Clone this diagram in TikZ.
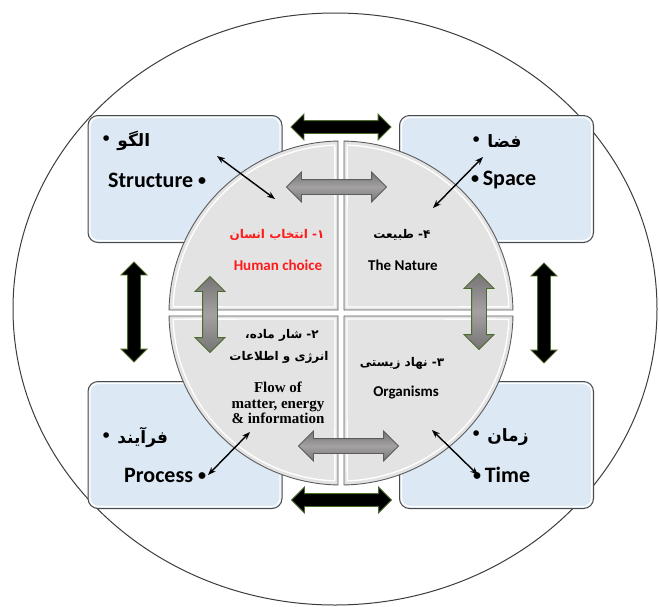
\documentclass[tikz,border=0pt]{standalone}
\usepackage{fontspec}
\setmainfont{Carlito}
\newfontfamily\fa[Script=Arabic]{DejaVu Sans}
\newfontfamily\tms{Liberation Serif}
\TeXXeTstate=1
\usetikzlibrary{shapes.arrows,arrows.meta}

\definecolor{boxfill}{HTML}{DCE8F4}
\definecolor{boxline}{HTML}{4A4A4A}
\definecolor{quadfill}{HTML}{E3E3E3}
\definecolor{quadline}{HTML}{5C5C5C}
\definecolor{grayarrow}{HTML}{767474}
\definecolor{grayshine}{HTML}{A3A1A1}
\definecolor{greenedge}{HTML}{4E6B2E}
\definecolor{redtext}{HTML}{FF1A1A}
\definecolor{ringline}{HTML}{3C3C3C}

% list bullet, centred on the lower-case height
\newcommand{\dotmark}{\raisebox{1.8pt}{\fontsize{16}{16}\selectfont\textbullet}}

\tikzset{
  infobox/.style={draw=boxline, line width=1pt, fill=boxfill, rounded corners=10pt,
    minimum width=194pt, minimum height=127pt, inner sep=0pt},
  boxshine/.style={draw=white, line width=1.3pt, rounded corners=8pt},
  bigarrow/.style={double arrow, fill=black, draw=greenedge, line width=0.9pt,
    minimum height=100pt, double arrow head extend=6.5pt,
    double arrow tip angle=90, inner xsep=0pt, inner ysep=6pt},
  grayblock/.style={double arrow, top color=grayarrow, bottom color=grayarrow,
    middle color=grayshine, draw=#1, line width=0.9pt,
    minimum height=100pt, double arrow head extend=7.5pt,
    double arrow tip angle=90, inner xsep=0pt, inner ysep=7pt},
  quad/.style={fill=quadfill, draw=quadline, line width=0.9pt},
  quadshine/.style={draw=white, line width=1.3pt},
  link/.style={<->, >={Stealth[length=8pt,width=6pt]}, line width=1.4pt},
  boxlabel/.style={font=\bfseries\fontsize{22}{24}\selectfont, inner sep=0pt, anchor=west},
  boxfa/.style={font=\fa\bfseries\fontsize{17}{20}\selectfont, inner sep=0pt, anchor=west},
  midlabel/.style={font=\bfseries\fontsize{15}{18}\selectfont, inner sep=0pt},
  midfa/.style={font=\fa\bfseries\fontsize{12}{15}\selectfont, inner sep=0pt},
  flowlabel/.style={font=\tms\bfseries\fontsize{15}{15.5}\selectfont, inner sep=0pt, align=center},
}

\begin{document}
\begin{tikzpicture}[x=1pt, y=-1pt]
\useasboundingbox (0,0) rectangle (659,606);

% outer ring
\draw[ringline, line width=1pt] (335,309) ellipse[x radius=322, y radius=296];

% corner boxes
\node[infobox] (structure) at (185,179) {};
\node[infobox] (space)     at (496.5,179) {};
\node[infobox] (process)   at (185,445) {};
\node[infobox] (time)      at (496.5,445) {};
\foreach \b in {structure,space,process,time}
  \draw[boxshine] ([shift={(2.5,2.5)}]\b.north west) rectangle ([shift={(-2.5,-2.5)}]\b.south east);

% black arrows between the boxes
\node[bigarrow] (topflow)    at (341,127) {};
\node[bigarrow] (bottomflow) at (341.5,500) {};
\node[bigarrow, rotate=90] (leftflow)  at (134,312) {};
\node[bigarrow, rotate=90] (rightflow) at (544,313) {};

% central disc in four quarters
\begin{scope}[shift={(341,313)}]
  \draw[quad] (-3,-3) -- (181:172) arc[start angle=181, end angle=269, radius=172] -- cycle;
  \draw[quad] (3,-3) -- (271:172) arc[start angle=271, end angle=359, radius=172] -- cycle;
  \draw[quad] (3,3) -- (1:172) arc[start angle=1, end angle=89, radius=172] -- cycle;
  \draw[quad] (-3,3) -- (91:172) arc[start angle=91, end angle=179, radius=172] -- cycle;
  \draw[quadshine] (-6,-6) -- (182.1:168) arc[start angle=182.1, end angle=267.9, radius=168] -- cycle;
  \draw[quadshine] (6,-6) -- (272.1:168) arc[start angle=272.1, end angle=357.9, radius=168] -- cycle;
  \draw[quadshine] (6,6) -- (2.1:168) arc[start angle=2.1, end angle=87.9, radius=168] -- cycle;
  \draw[quadshine] (-6,6) -- (92.1:168) arc[start angle=92.1, end angle=177.9, radius=168] -- cycle;
\end{scope}

% gray arrows inside the disc
\node[grayblock=quadline] (innertop)    at (336.5,187) {};
\node[grayblock=quadline] (innerbottom) at (348.5,446) {};
\node[grayblock=greenedge, rotate=90, minimum height=76pt] (innerleft)  at (210,314.5) {};
\node[grayblock=greenedge, rotate=90, minimum height=76pt] (innerright) at (479,311.5) {};

% labels of the boxes
\node[boxfa] (structfa) at (101,141) {\dotmark\ \beginR الگو\endR};
\node[boxlabel] (structen) at (108,180) {Structure \dotmark};
\node[boxfa] (spacefa) at (471,141) {\dotmark\ \beginR فضا\endR};
\node[boxlabel] (spaceen) at (471,180) {\dotmark\,Space};
\node[boxfa] (processfa) at (101,437) {\dotmark\ \beginR فرآیند\endR};
\node[boxlabel] (processen) at (124,475) {Process \dotmark};
\node[boxfa] (timefa) at (471,437) {\dotmark\ \beginR زمان\endR};
\node[boxlabel] (timeen) at (473,475) {\dotmark\,Time};

% labels of the quarters
\node[midfa, text=redtext] (humanfa) at (277,235) {\beginR ۱- انتخاب انسان\endR};
\node[midlabel, text=redtext] (humanen) at (278,265) {Human choice};
\node[midfa] (naturefa) at (402,235) {\beginR ۴- طبیعت\endR};
\node[midlabel] (natureen) at (403,265) {The Nature};
\node[midfa] (flowfa1) at (282,335) {\beginR ۲- شار ماده،\endR};
\node[midfa] (flowfa2) at (279,357) {\beginR انرژی و اطلاعات\endR};
\node[flowlabel] (flowen) at (278,403) {Flow of\\matter, energy\\\& information};
\node[midfa] (orgfa) at (402,363) {\beginR ۳- نهاد زیستی\endR};
\node[midlabel] (orgen) at (406,393) {Organisms};

% links between the boxes and the quarters
\coordinate (tlout) at (217,156);
\coordinate (tlin)  at (275,199);
\coordinate (trout) at (483,157);
\coordinate (trin)  at (433,208);
\coordinate (blout) at (208,475);
\coordinate (blin)  at (250,432);
\coordinate (brout) at (478,475);
\coordinate (brin)  at (432,430);
\draw[link] (tlout) -- (tlin);
\draw[link] (trout) -- (trin);
\draw[link] (blout) -- (blin);
\draw[link] (brout) -- (brin);
\end{tikzpicture}
\end{document}
